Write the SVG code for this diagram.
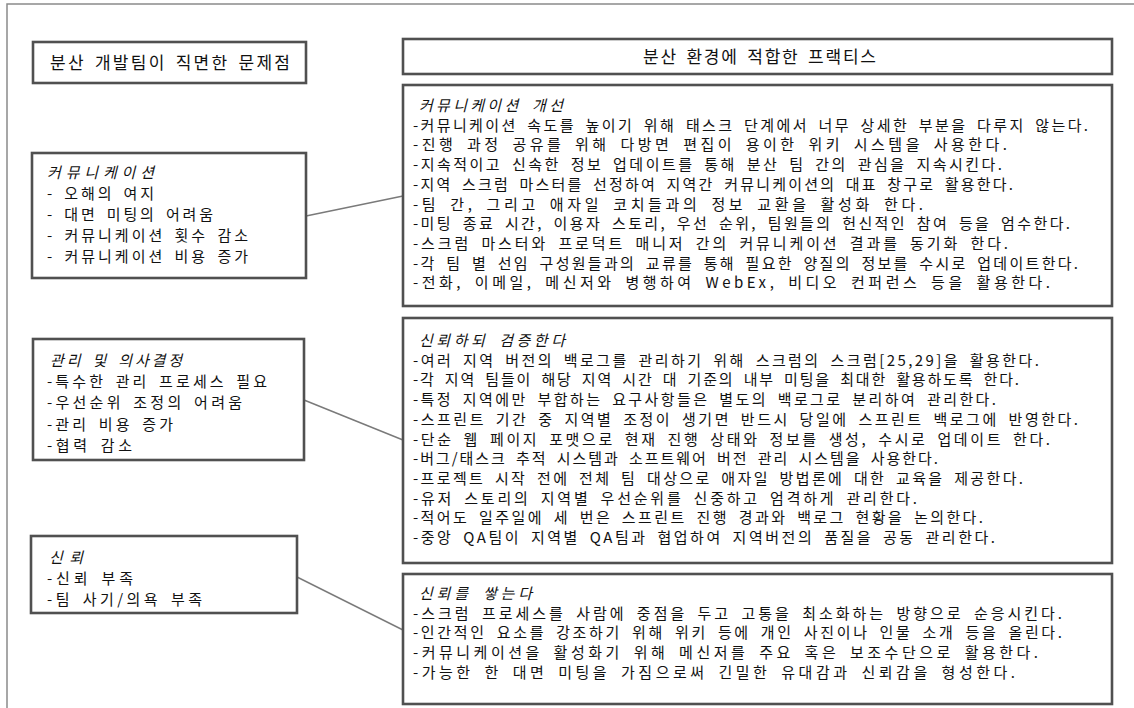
<svg xmlns="http://www.w3.org/2000/svg" width="1134" height="708" viewBox="0 0 1134 708">
<style>
.frame{fill:none;stroke:#8a8a8a;stroke-width:1.5}
.box{fill:#fff;stroke:#505050;stroke-width:2.6}
.conn{fill:none;stroke:#7a7a7a;stroke-width:1.5}
text{font-family:"Noto Sans CJK KR","Noto Sans",sans-serif;fill:#111}
.h{font-size:17px;word-spacing:3px}
.b{font-size:15px;word-spacing:4px}
.l{font-size:15px;word-spacing:3px}
.t{font-style:italic}
</style>
<rect class="frame" x="7" y="4" width="1200" height="800"/>
<g id="connectors">
<line class="conn" x1="306" y1="216" x2="403" y2="196"/>
<line class="conn" x1="304" y1="400" x2="403" y2="440"/>
<line class="conn" x1="297" y1="577" x2="403" y2="630"/>
</g>
<g id="header-left">
<rect class="box" x="33" y="42" width="273" height="41"/>
<text class="h" x="50" y="69" textLength="240" lengthAdjust="spacing">분산 개발팀이 직면한 문제점</text>
</g>
<g id="header-right">
<rect class="box" x="403" y="39" width="709" height="35"/>
<text class="h" x="643" y="63" textLength="233" lengthAdjust="spacing">분산 환경에 적합한 프랙티스</text>
</g>
<g id="problem-communication">
<rect class="box" x="32" y="153" width="274" height="125"/>
<text class="l t" x="47" y="177.5" textLength="107" lengthAdjust="spacing">커뮤니케이션</text>
<text class="l" x="47" y="198.7" textLength="107" lengthAdjust="spacing">- 오해의 여지</text>
<text class="l" x="47" y="219.9" textLength="166" lengthAdjust="spacing">- 대면 미팅의 어려움</text>
<text class="l" x="47" y="241.1" textLength="201" lengthAdjust="spacing">- 커뮤니케이션 횟수 감소</text>
<text class="l" x="47" y="262.3" textLength="201" lengthAdjust="spacing">- 커뮤니케이션 비용 증가</text>
</g>
<g id="problem-management">
<rect class="box" x="33" y="339" width="271" height="121"/>
<text class="l t" x="50" y="366" textLength="132" lengthAdjust="spacing">관리 및 의사결정</text>
<text class="l" x="47" y="387.2" textLength="220" lengthAdjust="spacing">-특수한 관리 프로세스 필요</text>
<text class="l" x="47" y="408.4" textLength="195" lengthAdjust="spacing">-우선순위 조정의 어려움</text>
<text class="l" x="47" y="429.6" textLength="126" lengthAdjust="spacing">-관리 비용 증가</text>
<text class="l" x="47" y="450.8" textLength="85" lengthAdjust="spacing">-협력 감소</text>
</g>
<g id="problem-trust">
<rect class="box" x="31" y="536" width="266" height="77"/>
<text class="l t" x="49" y="562.5" textLength="34" lengthAdjust="spacing">신뢰</text>
<text class="l" x="47" y="583.7" textLength="86" lengthAdjust="spacing">-신뢰 부족</text>
<text class="l" x="47" y="604.9" textLength="155" lengthAdjust="spacing">-팀 사기/의욕 부족</text>
</g>
<g id="practice-communication">
<rect class="box" x="403" y="85" width="709" height="221"/>
<text class="b t" x="419" y="111" textLength="144" lengthAdjust="spacing">커뮤니케이션 개선</text>
<text class="b" x="413" y="130.7" textLength="675" lengthAdjust="spacing">-커뮤니케이션 속도를 높이기 위해 태스크 단계에서 너무 상세한 부분을 다루지 않는다.</text>
<text class="b" x="413" y="150.4" textLength="594" lengthAdjust="spacing">-진행 과정 공유를 위해 다방면 편집이 용이한 위키 시스템을 사용한다.</text>
<text class="b" x="413" y="170.1" textLength="589" lengthAdjust="spacing">-지속적이고 신속한 정보 업데이트를 통해 분산 팀 간의 관심을 지속시킨다.</text>
<text class="b" x="413" y="189.8" textLength="600" lengthAdjust="spacing">-지역 스크럼 마스터를 선정하여 지역간 커뮤니케이션의 대표 창구로 활용한다.</text>
<text class="b" x="413" y="209.5" textLength="510" lengthAdjust="spacing">-팀 간, 그리고 애자일 코치들과의 정보 교환을 활성화 한다.</text>
<text class="b" x="413" y="229.2" textLength="657" lengthAdjust="spacing">-미팅 종료 시간, 이용자 스토리, 우선 순위, 팀원들의 헌신적인 참여 등을 엄수한다.</text>
<text class="b" x="413" y="248.9" textLength="595" lengthAdjust="spacing">-스크럼 마스터와 프로덕트 매니저 간의 커뮤니케이션 결과를 동기화 한다.</text>
<text class="b" x="413" y="268.6" textLength="665" lengthAdjust="spacing">-각 팀 별 선임 구성원들과의 교류를 통해 필요한 양질의 정보를 수시로 업데이트한다.</text>
<text class="b" x="413" y="288.3" textLength="637" lengthAdjust="spacing">-전화, 이메일, 메신저와 병행하여 WebEx, 비디오 컨퍼런스 등을 활용한다.</text>
</g>
<g id="practice-verify">
<rect class="box" x="403" y="318" width="709" height="245"/>
<text class="b t" x="419" y="346" textLength="146" lengthAdjust="spacing">신뢰하되 검증한다</text>
<text class="b" x="413" y="365.7" textLength="626" lengthAdjust="spacing">-여러 지역 버전의 백로그를 관리하기 위해 스크럼의 스크럼[25,29]을 활용한다.</text>
<text class="b" x="413" y="385.4" textLength="606" lengthAdjust="spacing">-각 지역 팀들이 해당 지역 시간 대 기준의 내부 미팅을 최대한 활용하도록 한다.</text>
<text class="b" x="413" y="405.1" textLength="583" lengthAdjust="spacing">-특정 지역에만 부합하는 요구사항들은 별도의 백로그로 분리하여 관리한다.</text>
<text class="b" x="413" y="424.8" textLength="665" lengthAdjust="spacing">-스프린트  기간 중 지역별 조정이 생기면 반드시 당일에 스프린트 백로그에 반영한다.</text>
<text class="b" x="413" y="444.5" textLength="637" lengthAdjust="spacing">-단순 웹 페이지 포맷으로 현재 진행 상태와 정보를 생성, 수시로 업데이트 한다.</text>
<text class="b" x="413" y="464.2" textLength="525" lengthAdjust="spacing">-버그/태스크 추적 시스템과 소프트웨어 버전 관리 시스템을 사용한다.</text>
<text class="b" x="413" y="483.9" textLength="610" lengthAdjust="spacing">-프로젝트 시작 전에 전체 팀 대상으로 애자일 방법론에 대한 교육을 제공한다.</text>
<text class="b" x="413" y="503.6" textLength="504" lengthAdjust="spacing">-유저 스토리의 지역별 우선순위를 신중하고 엄격하게 관리한다.</text>
<text class="b" x="413" y="523.3" textLength="570" lengthAdjust="spacing">-적어도 일주일에 세 번은 스프린트 진행 경과와 백로그 현황을 논의한다.</text>
<text class="b" x="413" y="543" textLength="582" lengthAdjust="spacing">-중앙 QA팀이 지역별 QA팀과 협업하여 지역버전의 품질을 공동 관리한다.</text>
</g>
<g id="practice-trust">
<rect class="box" x="403" y="574" width="709" height="130"/>
<text class="b t" x="419" y="599" textLength="113" lengthAdjust="spacing">신뢰를 쌓는다</text>
<text class="b" x="413" y="618.7" textLength="649" lengthAdjust="spacing">-스크럼 프로세스를 사람에 중점을 두고 고통을 최소화하는 방향으로 순응시킨다.</text>
<text class="b" x="413" y="638.4" textLength="649" lengthAdjust="spacing">-인간적인 요소를 강조하기 위해 위키 등에 개인 사진이나 인물 소개 등을 올린다.</text>
<text class="b" x="413" y="658.1" textLength="625" lengthAdjust="spacing">-커뮤니케이션을 활성화기 위해 메신저를 주요 혹은 보조수단으로 활용한다.</text>
<text class="b" x="413" y="677.8" textLength="602" lengthAdjust="spacing">-가능한 한 대면 미팅을 가짐으로써 긴밀한 유대감과 신뢰감을 형성한다.</text>
</g>
</svg>
